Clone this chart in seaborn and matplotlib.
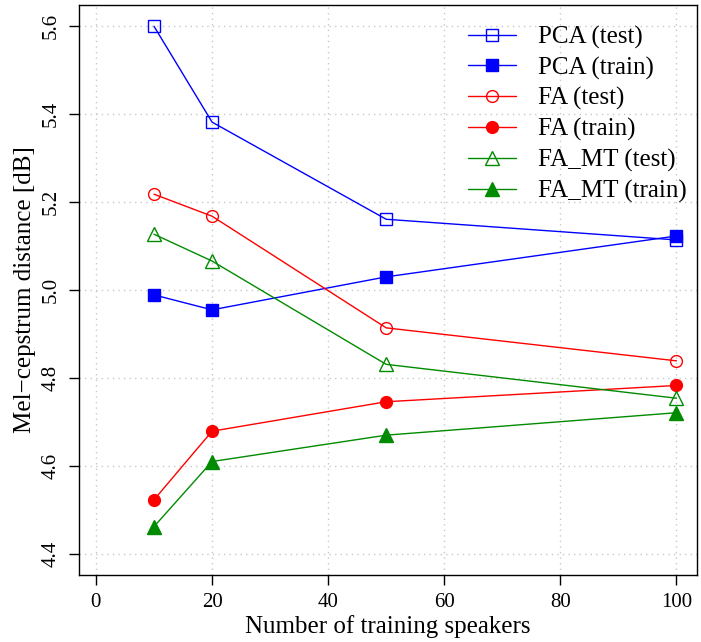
import pandas as pd
import matplotlib
matplotlib.use("Agg")
import matplotlib.pyplot as plt
import seaborn as sns

# data
speakers = [10, 20, 50, 100]
pca_test = [5.600, 5.382, 5.161, 5.114]
pca_train = [4.989, 4.955, 5.030, 5.123]
fa_test = [5.218, 5.168, 4.914, 4.839]
fa_train = [4.523, 4.679, 4.746, 4.783]
famt_test = [5.127, 5.066, 4.831, 4.754]
famt_train = [4.462, 4.610, 4.670, 4.721]

labels = ["PCA (test)", "PCA (train)", "FA (test)", "FA (train)",
          "FA_MT (test)", "FA_MT (train)"]
series = [pca_test, pca_train, fa_test, fa_train, famt_test, famt_train]

sns.set_style("white")
plt.rcParams["font.family"] = ["Liberation Serif", "DejaVu Serif"]
plt.rcParams["axes.unicode_minus"] = True
plt.rcParams["text.color"] = "black"
plt.rcParams["axes.labelcolor"] = "black"
plt.rcParams["xtick.color"] = "black"
plt.rcParams["ytick.color"] = "black"

green = "#008B00"
styles = [
    ("blue", "s", False, 8.5),
    ("blue", "s", True, 8.5),
    ("red", "o", False, 8.5),
    ("red", "o", True, 8.5),
    (green, "^", False, 10),
    (green, "^", True, 10),
]

fig = plt.figure(figsize=(7.01, 6.42), dpi=100)
ax = fig.add_axes([0.112, 0.1044, 0.882, 0.8876])

for lab, vals, (col, mk, filled, ms) in zip(labels, series, styles):
    df = pd.DataFrame({"x": speakers, "y": vals})
    sns.lineplot(
        data=df, x="x", y="y", ax=ax, color=col, marker=mk, markersize=ms,
        markerfacecolor=col if filled else "none", markeredgecolor=col,
        markeredgewidth=1.0, linewidth=1.0, label=lab,
    )

ax.set_xlim(-3, 103.5)
ax.set_ylim(4.352, 5.648)
ax.set_xticks([0, 20, 40, 60, 80, 100])
ax.set_yticks([4.4, 4.6, 4.8, 5.0, 5.2, 5.4, 5.6])
ax.set_yticklabels(["4.4", "4.6", "4.8", "5.0", "5.2", "5.4", "5.6"],
                   rotation=90, va="center")
ax.tick_params(axis="both", direction="out", length=7, width=1,
               labelsize=15, pad=6, left=True, bottom=True,
               colors="black")

ax.grid(True, color="#c8c8c8", linestyle=(0, (1, 3)), linewidth=1)
for sp in ax.spines.values():
    sp.set_visible(True)
    sp.set_color("black")
    sp.set_linewidth(1)

ax.set_xlabel("Number of training speakers", fontsize=18, labelpad=2)
ax.set_ylabel("Mel\u2212cepstrum distance [dB]", fontsize=18, labelpad=4)

ax.legend(loc="upper right", frameon=False, fontsize=18,
          handlelength=1.9, handletextpad=0.9, labelspacing=0.31,
          borderpad=0, borderaxespad=0, bbox_to_anchor=(0.984, 0.964))

fig.savefig("out.png", dpi=100)
